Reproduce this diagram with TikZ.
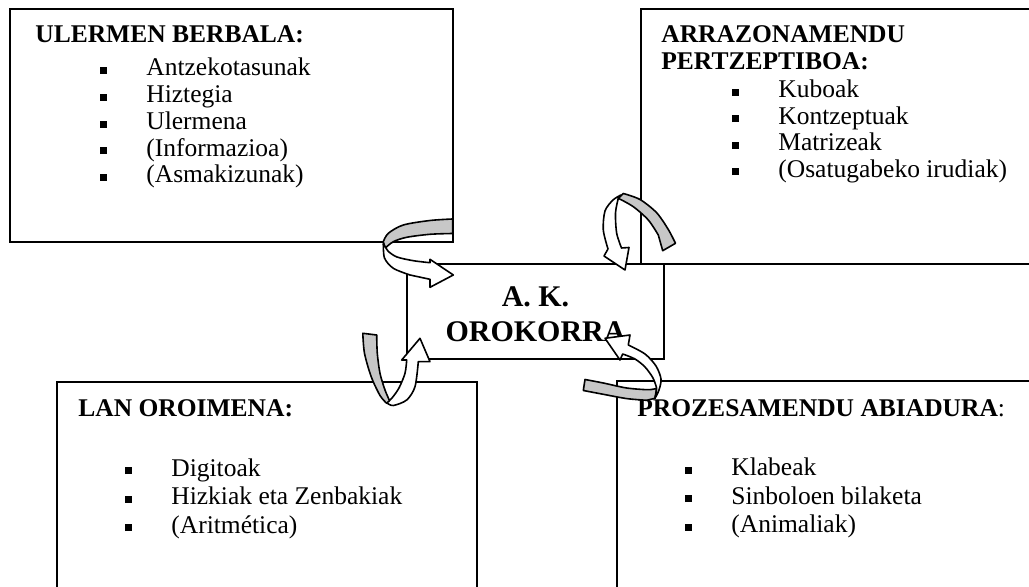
\documentclass[tikz,border=0pt]{standalone}
\usepackage{fontspec}
\setmainfont{Liberation Serif}
\usetikzlibrary{fit}
\newcommand{\sqbul}{\makebox[23pt][l]{\rule[1.2pt]{3.5pt}{3.5pt}}}
\begin{document}
\begin{tikzpicture}[x=0.5pt, y=-0.5pt,
  box/.style={draw, line width=1pt, inner sep=0pt},
  itm/.style={anchor=base west, inner sep=0pt, font=\fontsize{12.75}{13.25}\selectfont},
  ttl/.style={itm, font=\fontsize{12.75}{13.25}\selectfont\bfseries},
  backrib/.style={draw, fill=black!22, line width=0.8pt, line join=round},
  frontrib/.style={draw, fill=white, line width=0.8pt, line join=round}]
\useasboundingbox (0,0) rectangle (1029,587);
\clip (0,0) rectangle (1029,587);
\node[box, fit={(10,9) (453,242)}] (ulermen) {};
\node[box, fit={(641,9) (1040,264)}] (arrazo) {};
\node[box, fit={(407,264) (664,359)}] (orokor) {};
\node[box, fit={(57,382) (477,600)}] (lanoro) {};
\node[box, fit={(617,381) (1040,600)}] (abiad) {};
\node[ttl] (ulermen0) at (35,43) {ULERMEN BERBALA:};
\node[itm] (ulermen1) at (100,76) {\sqbul Antzekotasunak};
\node[itm] (ulermen2) at (100,103) {\sqbul Hiztegia};
\node[itm] (ulermen3) at (100,130) {\sqbul Ulermena};
\node[itm] (ulermen4) at (100,156.5) {\sqbul (Informazioa)};
\node[itm] (ulermen5) at (100,183) {\sqbul (Asmakizunak)};
\node[ttl] (arrazo0) at (661,43) {ARRAZONAMENDU};
\node[ttl] (arrazo00) at (661,70) {PERTZEPTIBOA:};
\node[itm] (arrazo1) at (732,98) {\sqbul Kuboak};
\node[itm] (arrazo2) at (732,124.5) {\sqbul Kontzeptuak};
\node[itm] (arrazo3) at (732,151) {\sqbul Matrizeak};
\node[itm] (arrazo4) at (732,177.5) {\sqbul (Osatugabeko irudiak)};
\node[ttl] (lanoro0) at (78,416.5) {LAN OROIMENA:};
\node[itm] (lanoro1) at (125,476.5) {\sqbul Digitoak};
\node[itm] (lanoro2) at (125,505) {\sqbul Hizkiak eta Zenbakiak};
\node[itm] (lanoro3) at (125,533.5) {\sqbul (Aritmética)};
\node[itm] (abiad0) at (637,416.5) {\textbf{PROZESAMENDU ABIADURA}:};
\node[itm] (abiad1) at (685,476) {\sqbul Klabeak};
\node[itm] (abiad2) at (685,504.5) {\sqbul Sinboloen bilaketa};
\node[itm] (abiad3) at (685,533) {\sqbul (Animaliak)};
\node[align=center, inner sep=0pt, font=\fontsize{15}{17.5}\selectfont\bfseries] (orokor0) at (535.5,314) {A. K.\\OROKORRA};
\draw[backrib] plot[smooth] coordinates {(452.7,219) (430,220.5) (403.3,225) (388.3,233.3) (383.3,241.7)}
  -- plot[smooth] coordinates {(385,248.3) (393.3,241.7) (406.7,237.3) (430,234.3) (452.7,233.5)} -- cycle;
\draw[frontrib] plot[smooth] coordinates {(383.3,243) (388,251) (397,257) (413.3,260.7) (430,262.7)}
  -- (430,259.3) -- (453.3,275) -- (430,287.3) -- (430,279.3)
  -- plot[smooth] coordinates {(410,275) (393.3,268.3) (384.5,258) (383.3,243)} -- cycle;
\draw[backrib] plot[smooth] coordinates {(623.3,193.5) (640,199.5) (656.7,212.8) (668.3,229.5) (675.5,243.3)}
  -- (662.7,250.7) -- plot[smooth] coordinates {(658.3,235) (648.3,220) (633.3,206.7) (618.3,198.3)} -- cycle;
\draw[frontrib] plot[smooth] coordinates {(621,195) (613,200) (605,211) (603.3,230) (608,249)}
  -- (604,256) -- (625,270) -- (629,247.5)
  -- plot[smooth] coordinates {(621.5,248) (616.7,233.3) (615.5,213) (618.3,198.3)} -- cycle;
\draw[backrib] plot[smooth] coordinates {(362.8,333.3) (364.5,353.3) (371.2,376.7) (380,395.5) (386.7,403.3)}
  -- plot[smooth] coordinates {(390,401.7) (385,390) (380,373.3) (377.3,353.3) (376.7,335)} -- cycle;
\draw[frontrib] plot[smooth] coordinates {(387,403) (392,398) (399,388) (405,373.3) (406.7,360)}
  -- (401.7,360) -- (420,338.3) -- (430,361.7)
  -- plot[smooth] coordinates {(418.3,361.7) (415,386.7) (406.7,400) (393.3,405.5) (387,403)} -- cycle;
\draw[backrib] plot[smooth] coordinates {(585,379.5) (603.3,383) (626.7,388) (648.3,389.7) (656.7,388.3)}
  -- (655,398.3) -- plot[smooth] coordinates {(646.7,400.3) (626.7,398.6) (603.3,394.3) (583.3,390.5)} -- cycle;
\draw[frontrib] plot[smooth] coordinates {(628.3,345) (645,354) (656,366) (661,379) (659,390) (655,398.3)}
  -- plot[smooth] coordinates {(656.7,388.3) (653,378) (645,367) (635,359) (622.7,354)}
  -- (620,360) -- (605,338.3) -- (630,335) -- cycle;
\end{tikzpicture}
\end{document}
